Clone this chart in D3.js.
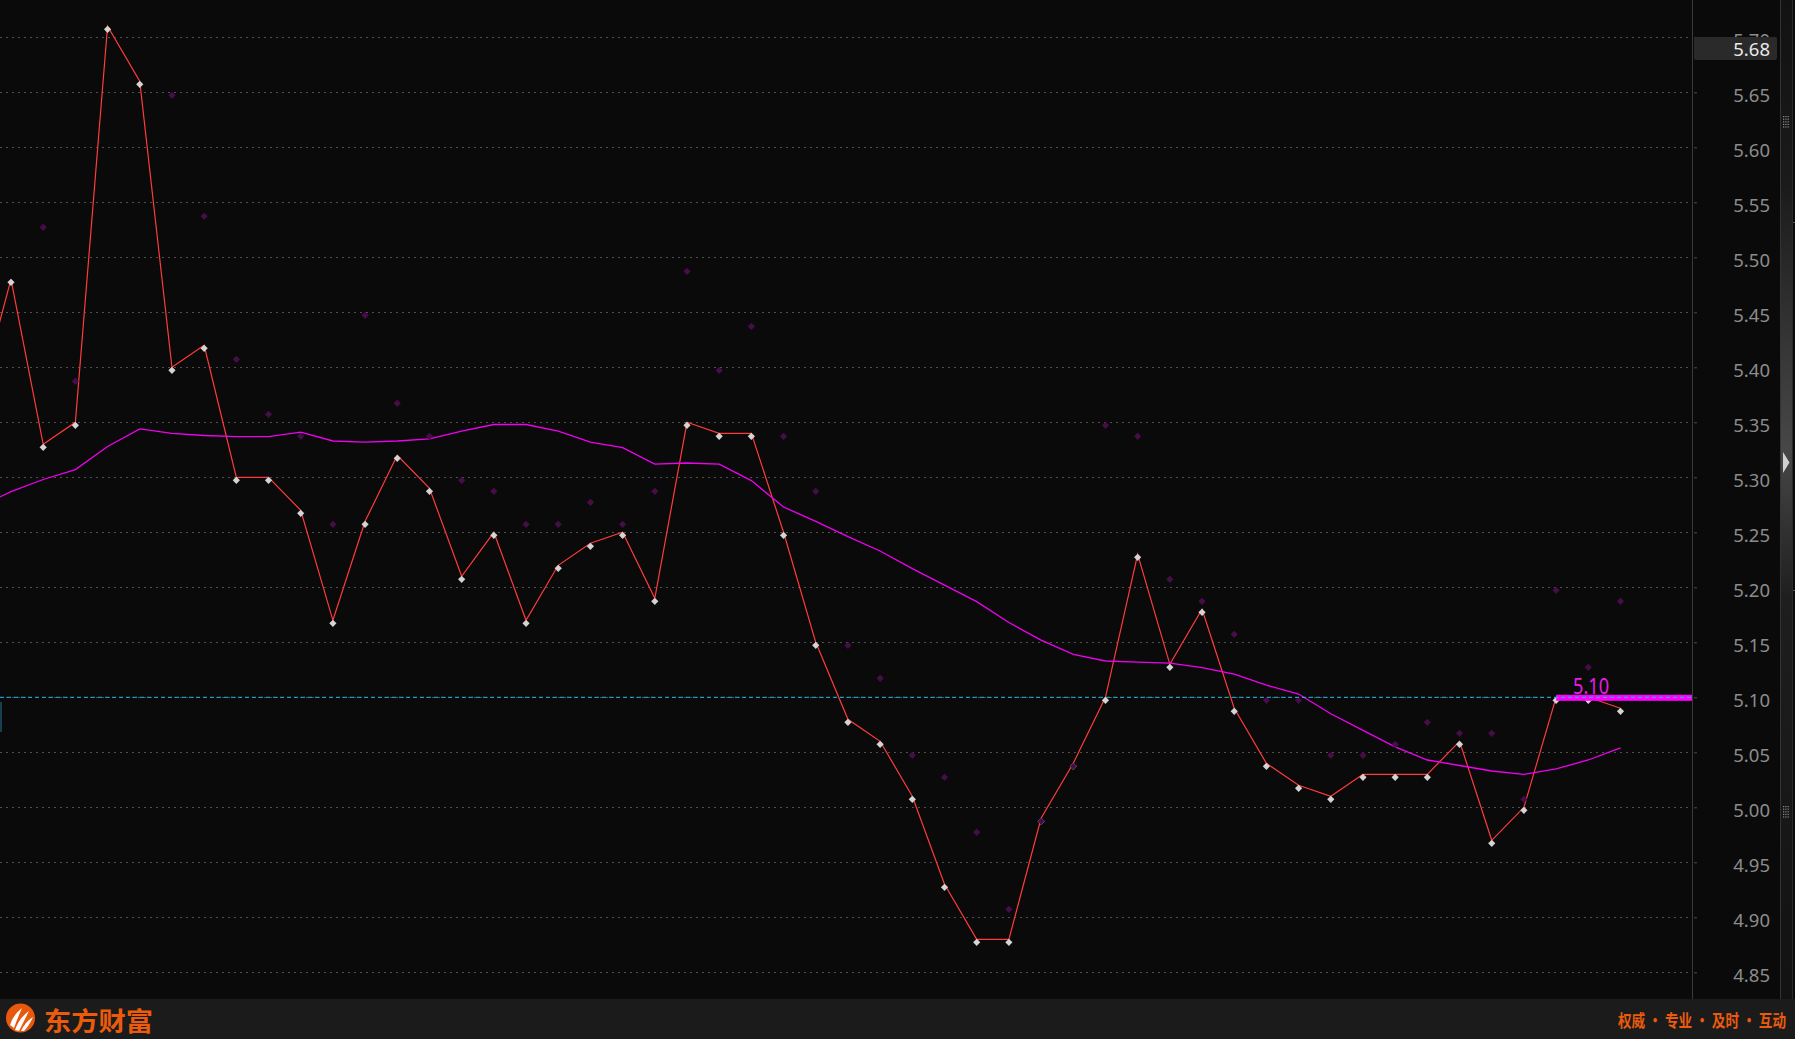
<!DOCTYPE html>
<html><head><meta charset="utf-8">
<script src="https://cdn.jsdelivr.net/npm/d3@7"></script>
<style>html,body{margin:0;padding:0;background:#0a0a0a;overflow:hidden}</style>
</head><body><svg id="c" width="1795" height="1039"></svg>
<script>
// ---- data ----
const days = [-1,0,1,2,3,4,5,6,7,8,9,10,11,12,13,14,15,16,17,18,19,20,21,22,23,24,25,26,27,28,29,30,31,32,33,34,35,36,37,38,39,40,41,42,43,44,45,46,47,48,49,50];
const closePrice = [5.37,5.48,5.33,5.35,5.71,5.66,5.40,5.42,5.30,5.30,5.27,5.17,5.26,5.32,5.29,5.21,5.25,5.17,5.22,5.24,5.25,5.19,5.35,5.34,5.34,5.25,5.15,5.08,5.06,5.01,4.93,4.88,4.88,4.99,5.04,5.10,5.23,5.13,5.18,5.09,5.04,5.02,5.01,5.03,5.03,5.03,5.06,4.97,5.00,5.10,5.10,5.09];
const upperDots = [null,null,5.53,5.39,null,null,5.65,5.54,5.41,5.36,5.34,5.26,5.45,5.37,5.34,5.30,5.29,5.26,5.26,5.28,5.26,5.29,5.49,5.40,5.44,5.34,5.29,5.15,5.12,5.05,5.03,4.98,4.91,4.99,5.04,5.35,5.34,5.21,5.19,5.16,5.10,5.10,5.05,5.05,5.06,5.08,5.07,5.07,5.01,5.20,5.13,5.19];
const maLine = [5.273,5.287,5.298,5.307,5.328,5.344,5.340,5.338,5.337,5.337,5.341,5.333,5.332,5.333,5.335,5.342,5.348,5.348,5.342,5.332,5.327,5.312,5.313,5.312,5.297,5.273,5.260,5.246,5.233,5.217,5.202,5.187,5.168,5.152,5.139,5.133,5.132,5.131,5.127,5.121,5.111,5.103,5.085,5.070,5.055,5.043,5.038,5.033,5.030,5.035,5.043,5.054];
const tickValues = [4.85,4.90,4.95,5.00,5.05,5.10,5.15,5.20,5.25,5.30,5.35,5.40,5.45,5.50,5.55,5.60,5.65,5.70];
const refLevel = 5.10;
const refStartDay = 48;
const cursorLabel = "5.68";
const brandName = "东方财富";
const slogan = "权威 · 专业 · 及时 · 互动";

// ---- layout ----
const W = 1795, H = 1039, plotR = 1692, plotB = 999;
const svg = d3.select("#c");
const x = d3.scaleLinear().domain([0, 50]).range([11, 1620.5]);
const y = d3.scaleLinear().domain([4.85, 5.70]).range([972.3, 37.3]);
const mk = 3; // marker vertical offset seen in the reference

svg.append("rect").attr("width", W).attr("height", H).attr("fill", "#0a0a0a");
const defs = svg.append("defs");
defs.append("clipPath").attr("id", "plot").append("rect").attr("x", 0).attr("y", 0).attr("width", plotR).attr("height", plotB);
const grad = defs.append("linearGradient").attr("id", "sb").attr("x1", 0).attr("x2", 0).attr("y1", 0).attr("y2", 1);
[[0,"#121212"],[0.18,"#1a1a1a"],[0.45,"#474747"],[0.6,"#1e1e1e"],[1,"#121212"]].forEach(s => grad.append("stop").attr("offset", s[0]).attr("stop-color", s[1]));

// gridlines
const grid = svg.append("g")
  .call(d3.axisRight(y).tickValues(tickValues).tickSize(plotR - 2).tickFormat(""));
grid.select(".domain").remove();
grid.selectAll("line").attr("stroke", "#505050").attr("stroke-dasharray", "1.5,4.5").attr("shape-rendering", "crispEdges");

const plot = svg.append("g").attr("clip-path", "url(#plot)");

// left edge marker
plot.append("rect").attr("x", 0).attr("y", 702).attr("width", 2).attr("height", 30).attr("fill", "#17404e");

// close line
plot.append("path").datum(days.map((d, i) => [d, closePrice[i]]))
  .attr("fill", "none").attr("stroke", "#ff3b3b").attr("stroke-width", 1.2)
  .attr("d", d3.line().x(d => x(d[0])).y(d => y(d[1])));
// moving average
plot.append("path").datum(days.map((d, i) => [d, maLine[i]]))
  .attr("fill", "none").attr("stroke", "#f000f0").attr("stroke-width", 1.3)
  .attr("d", d3.line().x(d => x(d[0])).y(d => y(d[1])));

const diamond = "M0,-3.6L3.6,0L0,3.6L-3.6,0Z";
plot.selectAll(".cd").data(days.map((d, i) => [d, closePrice[i]]).filter(d => d[0] >= 0))
  .enter().append("path").attr("d", diamond).attr("fill", "#d4d4d4")
  .attr("transform", d => `translate(${x(d[0])},${y(d[1]) + mk})`);
plot.selectAll(".ud").data(days.map((d, i) => [d, upperDots[i]]).filter(d => d[1] != null && d[0] >= 0))
  .enter().append("path").attr("d", diamond).attr("fill", "#470d4a")
  .attr("transform", d => `translate(${x(d[0])},${y(d[1]) + mk})`);

// reference bar + dashed line
plot.append("rect").attr("x", x(refStartDay)).attr("y", y(refLevel) - 2.5).attr("width", plotR - x(refStartDay)).attr("height", 6).attr("fill", "#ff00ff");
plot.append("line").attr("x1", 0).attr("x2", plotR).attr("y1", y(refLevel)).attr("y2", y(refLevel))
  .attr("stroke", "#1fb8ea").attr("stroke-width", 1).attr("stroke-dasharray", "4,3");
svg.append("text").attr("x", x(refStartDay) + 17).attr("y", y(refLevel) - 3.5)
  .attr("fill", "#e81ee8").attr("font-family", "'Noto Sans', sans-serif").attr("font-size", 21)
  .attr("textLength", 36).attr("lengthAdjust", "spacingAndGlyphs").text(refLevel.toFixed(2));

// right axis
svg.append("line").attr("x1", plotR + 0.5).attr("x2", plotR + 0.5).attr("y1", 0).attr("y2", plotB).attr("stroke", "#3a3a3a");
const ax = svg.append("g").attr("transform", `translate(${plotR},0)`)
  .call(d3.axisRight(y).tickValues(tickValues).tickSize(5).tickFormat(d3.format(".2f")));
ax.select(".domain").remove();
ax.selectAll("line").attr("stroke", "#4a4a4a").attr("x1", 2);
ax.selectAll("text").attr("x", 78).attr("dy", "9.4").attr("text-anchor", "end")
  .attr("fill", "#8c8c8c").attr("font-family", "'Noto Sans', sans-serif").attr("font-size", 18.5);

// cursor label
svg.append("rect").attr("x", 1694).attr("y", 37).attr("width", 83).attr("height", 23).attr("rx", 2).attr("fill", "#2a2a2a");
svg.append("text").attr("x", 1770).attr("y", 56).attr("text-anchor", "end").attr("fill", "#e8e8e8")
  .attr("font-family", "'Noto Sans', sans-serif").attr("font-size", 18.5).text(cursorLabel);

// scrollbar
svg.append("rect").attr("x", 1781).attr("y", 0).attr("width", 11).attr("height", plotB).attr("fill", "url(#sb)");
svg.append("line").attr("x1", 1780.5).attr("x2", 1780.5).attr("y1", 0).attr("y2", plotB).attr("stroke", "#333");
svg.append("line").attr("x1", 1792.5).attr("x2", 1792.5).attr("y1", 0).attr("y2", plotB).attr("stroke", "#2a2a2a");
[222, 590].forEach(v => svg.append("line").attr("x1", 1793).attr("x2", 1795).attr("y1", v + 0.5).attr("y2", v + 0.5).attr("stroke", "#555"));
svg.append("path").attr("d", "M1783,452L1789.5,462.5L1783,473Z").attr("fill", "#d0d0d0");
[116, 806].forEach(gy => {
  for (let r = 0; r < 5; r++) for (let c = 0; c < 3; c++)
    svg.append("rect").attr("x", 1783 + c * 2.3).attr("y", gy + r * 2.6).attr("width", 1.2).attr("height", 1.2).attr("fill", "#8a8a8a");
});

// footer
svg.append("rect").attr("x", 0).attr("y", plotB).attr("width", W).attr("height", H - plotB).attr("fill", "#1b1b1b");
svg.append("circle").attr("cx", 20.5).attr("cy", 1018).attr("r", 14.5).attr("fill", "#e8590e");
const lg = svg.append("g").attr("fill", "#ffffff");
lg.append("path").attr("d", "M10,1025 Q13,1015 22,1008 Q18,1017 14,1028 Z");
lg.append("path").attr("d", "M15,1030 Q19,1018 29,1011 Q24,1021 19,1031 Z");
lg.append("path").attr("d", "M21,1031 Q25,1022 33,1017 Q29,1026 24,1031 Z");
svg.append("text").attr("x", 44).attr("y", 1019).attr("dominant-baseline", "central")
  .attr("fill", "#ea5b0c").attr("font-family", "'Noto Sans CJK SC', sans-serif").attr("font-weight", "bold")
  .attr("font-size", 26).attr("textLength", 109).attr("lengthAdjust", "spacingAndGlyphs").text(brandName);
svg.append("text").attr("x", 1618).attr("y", 1020).attr("dominant-baseline", "central")
  .attr("fill", "#ea5b0c").attr("font-family", "'Noto Sans CJK SC', sans-serif").attr("font-weight", "bold")
  .attr("font-size", 16.5).attr("textLength", 168).attr("lengthAdjust", "spacingAndGlyphs").text(slogan);
</script></body></html>
